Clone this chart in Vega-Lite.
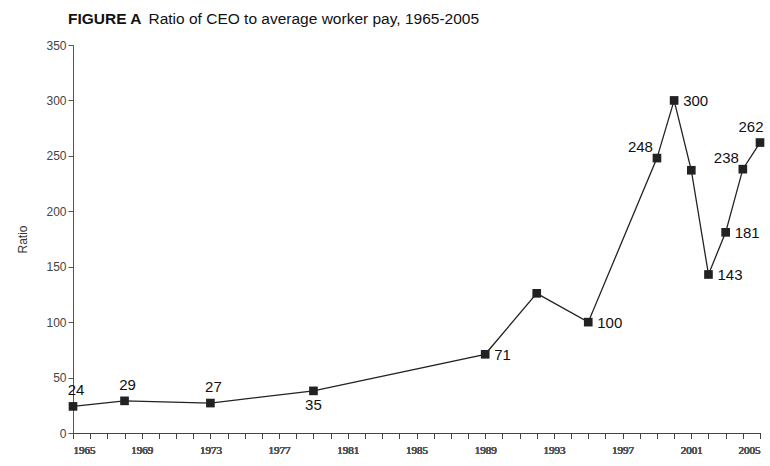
{
  "$schema": "https://vega.github.io/schema/vega-lite/v6.json",
  "autosize": "none",
  "width": 687,
  "height": 388,
  "padding": {"left": 73, "top": 45, "right": 10, "bottom": 33},
  "background": "white",
  "title": {
    "text": "FIGURE A",
    "anchor": "start",
    "frame": "group",
    "font": "Liberation Sans",
    "fontSize": 15.5,
    "fontWeight": "bold",
    "color": "#111",
    "baseline": "alphabetic",
    "offset": 0,
    "dx": -5,
    "dy": 28
  },
  "config": {
    "view": {"stroke": null},
    "font": "Liberation Sans",
    "axis": {"grid": false}
  },
  "data": {
    "values": [
      {"year": 1965, "ratio": 24, "label": "24", "pos": "above"},
      {"year": 1968, "ratio": 29, "label": "29", "pos": "above"},
      {"year": 1973, "ratio": 27, "label": "27", "pos": "above"},
      {"year": 1979, "ratio": 38, "label": "35", "pos": "below"},
      {"year": 1989, "ratio": 71, "label": "71", "pos": "right"},
      {"year": 1992, "ratio": 126, "label": "", "pos": "none"},
      {"year": 1995, "ratio": 100, "label": "100", "pos": "right"},
      {"year": 1999, "ratio": 248, "label": "248", "pos": "upleft"},
      {"year": 2000, "ratio": 300, "label": "300", "pos": "right"},
      {"year": 2001, "ratio": 237, "label": "", "pos": "none"},
      {"year": 2002, "ratio": 143, "label": "143", "pos": "right"},
      {"year": 2003, "ratio": 181, "label": "181", "pos": "right"},
      {"year": 2004, "ratio": 238, "label": "238", "pos": "upleft"},
      {"year": 2005, "ratio": 262, "label": "262", "pos": "aboveleft"}
    ]
  },
  "encoding": {
    "x": {
      "field": "year",
      "type": "quantitative",
      "scale": {"domain": [1965, 2005], "nice": false, "zero": false},
      "axis": {
        "orient": "bottom",
        "title": null,
        "values": [1965,1966,1967,1968,1969,1970,1971,1972,1973,1974,1975,1976,1977,1978,1979,1980,1981,1982,1983,1984,1985,1986,1987,1988,1989,1990,1991,1992,1993,1994,1995,1996,1997,1998,1999,2000,2001,2002,2003,2004,2005],
        "labelExpr": "(datum.value - 1965) % 4 == 0 ? datum.value : ''",
        "labelFont": "Liberation Sans Narrow",
        "labelFontSize": 11,
        "labelFontWeight": "normal",
        "labelColor": "#555",
        "labelPadding": 6,
        "tickSize": 5,
        "tickColor": "#444",
        "domainColor": "#444",
        "labelOverlap": false
      }
    },
    "y": {
      "field": "ratio",
      "type": "quantitative",
      "scale": {"domain": [0, 350], "nice": false},
      "axis": {
        "title": "Ratio",
        "values": [0, 50, 100, 150, 200, 250, 300, 350],
        "titleFont": "Liberation Sans",
        "titleFontSize": 12,
        "titleFontWeight": "normal",
        "titleColor": "#333",
        "titlePadding": 16,
        "labelFontSize": 12,
        "labelColor": "#444",
        "tickSize": 5,
        "tickColor": "#555",
        "domainColor": "#555"
      }
    }
  },
  "layer": [
    {
      "mark": {"type": "line", "color": "#222", "strokeWidth": 1.3}
    },
    {
      "mark": {"type": "square", "color": "#222", "opacity": 1, "size": 75}
    },
    {
      "transform": [{"filter": "datum.pos == 'above'"}],
      "mark": {"type": "text", "fontSize": 15, "color": "#111", "align": "center", "baseline": "bottom", "dy": -8, "dx": 3},
      "encoding": {"text": {"field": "label"}}
    },
    {
      "transform": [{"filter": "datum.pos == 'aboveleft'"}],
      "mark": {"type": "text", "fontSize": 15, "color": "#111", "align": "center", "baseline": "bottom", "dy": -8, "dx": -9},
      "encoding": {"text": {"field": "label"}}
    },
    {
      "transform": [{"filter": "datum.pos == 'below'"}],
      "mark": {"type": "text", "fontSize": 15, "color": "#111", "align": "center", "baseline": "top", "dy": 7},
      "encoding": {"text": {"field": "label"}}
    },
    {
      "transform": [{"filter": "datum.pos == 'right'"}],
      "mark": {"type": "text", "fontSize": 15, "color": "#111", "align": "left", "baseline": "middle", "dx": 9, "dy": 1},
      "encoding": {"text": {"field": "label"}}
    },
    {
      "transform": [{"filter": "datum.pos == 'upleft'"}],
      "mark": {"type": "text", "fontSize": 15, "color": "#111", "align": "right", "baseline": "middle", "dx": -4, "dy": -11},
      "encoding": {"text": {"field": "label"}}
    },
    {
      "mark": {"type": "point", "opacity": 0},
      "encoding": {
        "x": {
          "field": "year",
          "type": "quantitative",
          "axis": {
            "orient": "top",
            "title": "Ratio of CEO to average worker pay, 1965-2005",
            "titleFont": "Liberation Sans",
            "titleFontSize": 15.5,
            "titleFontWeight": "normal",
            "titleColor": "#111",
            "titleAnchor": "start",
            "titleAlign": "left",
            "titleBaseline": "alphabetic",
            "titleX": 75,
            "titleY": -22,
            "labels": false,
            "ticks": false,
            "domain": false
          }
        }
      }
    }
  ],
  "resolve": {"axis": {"x": "independent"}}
}
